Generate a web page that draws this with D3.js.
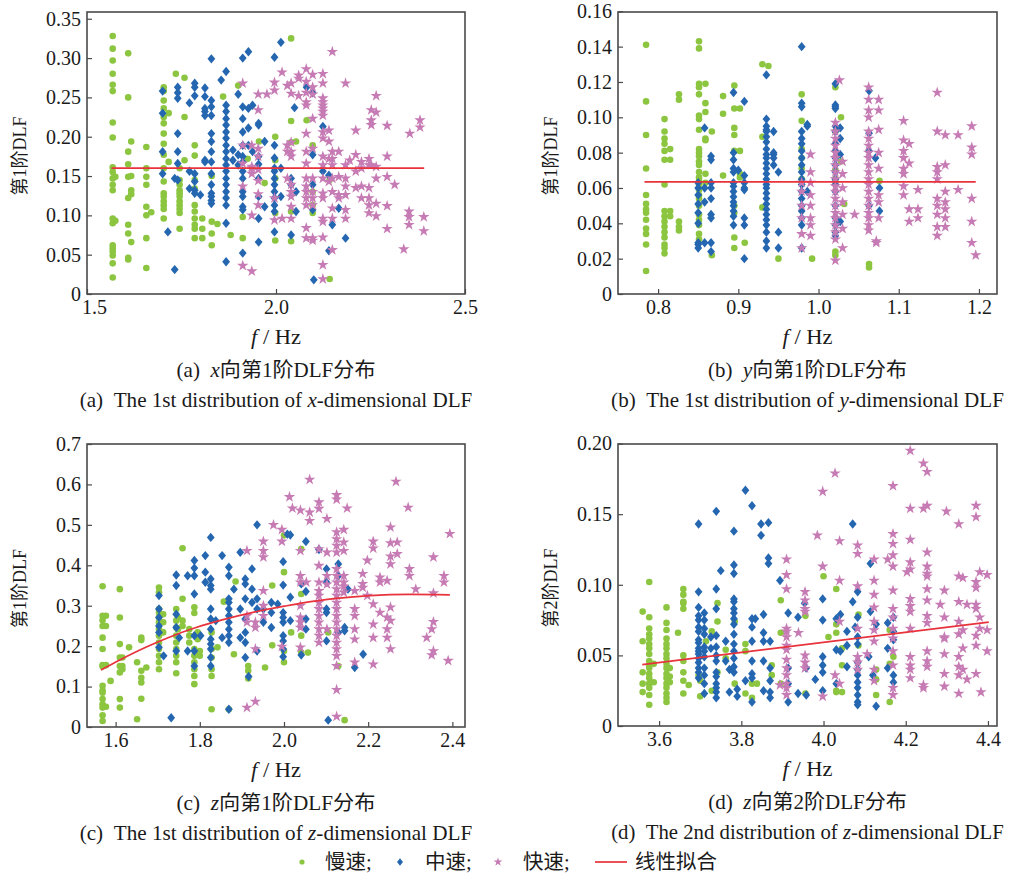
<!DOCTYPE html>
<html><head><meta charset="utf-8">
<script src="https://cdn.jsdelivr.net/npm/d3@7"></script>
<style>body{margin:0;background:#fff}svg{display:block}</style>
</head><body><svg id="chart" width="1016" height="877"></svg>
<script>
// ---------- data: [f (Hz), [DLF values at that f]] ----------
const aSlow = [
 [1.568,[0.328,0.312,0.297,0.280,0.266,0.258,0.218,0.199,0.161,0.155,0.147,0.139,0.132,0.096,0.090,0.062,0.058,0.054,0.049,0.039,0.021]],
 [1.575,[0.149,0.093]],
 [1.609,[0.306,0.250,0.181,0.165,0.149,0.122,0.088,0.077,0.046,0.044]],
 [1.617,[0.194,0.150,0.132,0.127,0.066]],
 [1.657,[0.187,0.160,0.149,0.139,0.111,0.100,0.071,0.033]],
 [1.670,[0.104]],
 [1.703,[0.263,0.258,0.246,0.236,0.225,0.217,0.204,0.191,0.177,0.160,0.143,0.128,0.124,0.118,0.113,0.108,0.096]],
 [1.716,[0.230,0.168]],
 [1.735,[0.280]],
 [1.745,[0.160,0.145,0.139,0.132,0.128,0.124,0.118,0.113,0.108,0.103,0.083]],
 [1.758,[0.275,0.225,0.170]],
 [1.785,[0.189,0.176,0.145,0.134,0.113,0.105,0.096,0.088,0.071,0.083]],
 [1.805,[0.096,0.083,0.071]],
 [1.830,[0.092,0.077,0.062,0.150]],
 [1.845,[0.089]],[1.860,[0.251]],[1.880,[0.075]],[1.900,[0.265]],
 [1.912,[0.071,0.098]],[1.925,[0.172]],[1.955,[0.194]],[1.970,[0.141]],
 [1.998,[0.200,0.170,0.147,0.103,0.068]],
 [2.040,[0.325,0.220,0.193,0.105,0.067]],
 [2.053,[0.194]],[2.081,[0.221]],
 [2.097,[0.189,0.130,0.113,0.103]],
 [2.142,[0.145,0.019]]
];
const aMid = [
 [1.700,[0.258,0.230,0.181,0.153]],[1.714,[0.079]],[1.732,[0.031,0.147]],
 [1.740,[0.263,0.256,0.249,0.204,0.181,0.166,0.145]],
 [1.771,[0.243,0.156,0.134]],
 [1.785,[0.268,0.263,0.252,0.153,0.143,0.132,0.128]],
 [1.800,[0.126]],
 [1.812,[0.262,0.251,0.236,0.232,0.227,0.170,0.168]],
 [1.829,[0.299,0.246,0.238,0.227,0.204,0.194,0.181,0.168,0.153,0.139,0.128,0.124,0.119,0.115]],
 [1.855,[0.272]],
 [1.868,[0.283,0.240,0.232,0.223,0.215,0.206,0.198,0.189,0.181,0.172,0.164,0.156,0.147,0.139,0.130,0.122,0.113,0.090,0.041]],
 [1.886,[0.183,0.170]],
 [1.900,[0.254,0.177,0.164]],
 [1.912,[0.300,0.238,0.223,0.206,0.189,0.175,0.168,0.156,0.147,0.130,0.124,0.111,0.107,0.052]],
 [1.927,[0.308,0.236,0.211,0.189]],
 [1.938,[0.240,0.181]],
 [1.954,[0.217,0.215,0.175,0.165,0.147,0.124,0.096,0.066]],
 [1.970,[0.194,0.111]],
 [1.996,[0.301,0.189,0.173,0.160,0.156,0.147,0.139,0.130,0.122,0.113,0.105,0.079]],
 [2.013,[0.320,0.160,0.124]],
 [2.040,[0.147,0.139,0.075]],[2.049,[0.237]],[2.053,[0.130,0.105]],[2.081,[0.263]],
 [2.097,[0.256,0.177,0.139,0.107]],[2.100,[0.018]],
 [2.124,[0.213,0.156]],[2.140,[0.151,0.055]],[2.149,[0.088]],[2.166,[0.109]],[2.184,[0.071]]
];
const aFast = [
 [1.912,[0.268,0.189,0.166,0.137,0.036]],
 [1.936,[0.189,0.162,0.160,0.153,0.100,0.029]],
 [1.953,[0.254,0.234,0.185,0.175,0.158,0.144,0.127,0.113]],
 [1.976,[0.254]],
 [1.996,[0.269,0.259,0.122,0.094]],
 [2.016,[0.282,0.096]],
 [2.030,[0.265,0.189,0.181,0.147]],
 [2.040,[0.268,0.255,0.193,0.181,0.175,0.139,0.130,0.124,0.111,0.096]],
 [2.060,[0.278,0.274,0.252]],
 [2.080,[0.286,0.270,0.256,0.244,0.240,0.204,0.181,0.166,0.147,0.137,0.130,0.122,0.113,0.084,0.071]],
 [2.097,[0.279,0.263,0.254,0.223,0.185,0.147,0.130,0.122,0.113,0.071,0.068]],
 [2.124,[0.280,0.268,0.249,0.244,0.240,0.236,0.232,0.227,0.206,0.198,0.175,0.164,0.147,0.128,0.122,0.096,0.092,0.072,0.037,0.019]],
 [2.140,[0.208,0.194,0.172,0.143]],
 [2.149,[0.308,0.181,0.172,0.164,0.147,0.130,0.109,0.096,0.056]],
 [2.166,[0.181,0.149,0.126,0.122]],
 [2.184,[0.268,0.164,0.147,0.137,0.126,0.107,0.096]],
 [2.195,[0.170]],
 [2.211,[0.208,0.177,0.156,0.135]],
 [2.226,[0.168,0.160,0.137,0.122]],
 [2.246,[0.172,0.164,0.135,0.122,0.113,0.103]],
 [2.252,[0.234,0.221,0.215,0.164]],
 [2.265,[0.252,0.231,0.162,0.147,0.115,0.099]],
 [2.294,[0.214,0.175,0.149,0.112,0.083]],
 [2.314,[0.139]],[2.338,[0.057]],[2.352,[0.105,0.098,0.088]],[2.354,[0.204]],
 [2.381,[0.221,0.212]],[2.391,[0.098,0.080]]
];
const aFitF = [1.565, 2.392];
const aFitD = [0.160, 0.160];

const bSlow = [
 [0.785,[0.141,0.109,0.090,0.071,0.056,0.051,0.048,0.046,0.042,0.037,0.034,0.028,0.013]],
 [0.808,[0.099,0.092,0.088,0.085,0.081,0.076,0.062,0.047,0.044,0.041,0.038,0.035,0.032,0.028,0.026,0.023]],
 [0.815,[0.082,0.076,0.047,0.044]],
 [0.826,[0.113,0.110,0.041,0.038,0.036]],
 [0.851,[0.143,0.139,0.119,0.117,0.113,0.101,0.099,0.093,0.082,0.080,0.078,0.075,0.073,0.069,0.066,0.064,0.062,0.059,0.056,0.054,0.050,0.045,0.042,0.039,0.034,0.031]],
 [0.859,[0.119,0.108,0.103,0.088,0.087,0.068,0.063]],
 [0.867,[0.092,0.022]],
 [0.881,[0.112,0.102,0.067]],
 [0.895,[0.118,0.105,0.094,0.090,0.081,0.050,0.046,0.032,0.026]],
 [0.902,[0.105,0.081,0.068,0.066]],
 [0.908,[0.029]],
 [0.930,[0.130,0.089,0.049]],[0.9375,[0.129]],[0.950,[0.020]],
 [0.979,[0.113,0.098,0.082,0.077,0.071,0.065]],
 [0.992,[0.020]],
 [1.021,[0.117,0.092,0.070,0.065,0.024,0.022]],
 [1.028,[0.100,0.075]],[1.032,[0.051]],[1.063,[0.017,0.015]],[1.076,[0.064]]
];
const bMid = [
 [0.850,[0.063,0.060,0.056,0.051,0.046,0.040,0.029,0.028,0.026]],
 [0.858,[0.094,0.060,0.052,0.029]],
 [0.866,[0.078,0.076,0.063,0.060,0.054,0.045,0.043,0.029,0.024]],
 [0.894,[0.114,0.080,0.076,0.071,0.069,0.063,0.061,0.058,0.055,0.052,0.050,0.047,0.044,0.039]],
 [0.900,[0.070]],
 [0.9075,[0.109,0.067,0.063,0.060,0.059,0.043,0.039,0.020]],
 [0.935,[0.124,0.099,0.095,0.093,0.092,0.089,0.086,0.082,0.079,0.077,0.074,0.071,0.068,0.065,0.062,0.060,0.057,0.054,0.051,0.048,0.045,0.042,0.039,0.035,0.030,0.026]],
 [0.944,[0.092,0.080,0.079,0.077,0.073]],
 [0.950,[0.069,0.035,0.026]],
 [0.979,[0.140,0.108,0.106,0.092,0.088,0.085,0.081,0.077,0.073,0.069,0.065,0.062,0.058,0.054,0.050,0.047,0.043,0.039,0.026]],
 [0.986,[0.096,0.095,0.058]],
 [1.021,[0.119,0.107,0.106,0.105,0.095,0.092,0.085,0.081,0.077,0.073,0.069,0.065,0.062,0.058,0.050,0.043,0.039,0.035,0.033]],
 [1.027,[0.094,0.088,0.079,0.041]],
 [1.063,[0.115,0.091,0.081,0.050]],
 [1.071,[0.077]],[1.076,[0.060,0.047]]
];
const bFast = [
 [0.979,[0.063,0.058,0.050,0.043,0.034,0.026]],
 [0.990,[0.079,0.069,0.063,0.056,0.050,0.043,0.039,0.033]],
 [1.021,[0.097,0.092,0.088,0.084,0.080,0.077,0.073,0.069,0.065,0.061,0.058,0.054,0.050,0.046,0.043,0.039,0.035,0.031,0.019]],
 [1.026,[0.121]],
 [1.030,[0.075,0.068,0.060,0.052,0.045,0.037,0.026]],
 [1.045,[0.045]],
 [1.0625,[0.117,0.110,0.104,0.100,0.092,0.088,0.084,0.080,0.077,0.073,0.069,0.065,0.062,0.058,0.054,0.050,0.046,0.043,0.039,0.036]],
 [1.075,[0.110,0.104,0.093,0.080,0.071,0.056,0.052,0.043]],
 [1.072,[0.030,0.029]],
 [1.106,[0.098,0.087,0.081,0.077,0.071,0.068,0.061,0.056]],
 [1.113,[0.085,0.074,0.048,0.041]],
 [1.124,[0.059,0.048,0.043]],
 [1.148,[0.114,0.092,0.072,0.069,0.065,0.054,0.050,0.045,0.038,0.033]],
 [1.158,[0.090,0.073,0.058,0.052,0.048,0.043,0.038]],
 [1.174,[0.090,0.059]],
 [1.191,[0.095,0.083,0.079,0.054,0.041,0.029]],
 [1.196,[0.022]]
];
const bFitF = [0.783, 1.196];
const bFitD = [0.0635, 0.0635];

const cSlow = [
 [1.569,[0.348,0.275,0.264,0.250,0.221,0.193,0.153,0.150,0.102,0.090,0.085,0.069,0.056,0.048,0.029,0.015]],
 [1.577,[0.275,0.250,0.153,0.050]],
 [1.588,[0.114]],
 [1.610,[0.341,0.271,0.205,0.172,0.151,0.135,0.069,0.048]],
 [1.616,[0.172,0.151,0.143]],
 [1.632,[0.197]],[1.651,[0.160,0.019]],
 [1.661,[0.221,0.215,0.139,0.122,0.110,0.070]],
 [1.673,[0.147]],
 [1.703,[0.345,0.333,0.292,0.283,0.271,0.259,0.242,0.226,0.209,0.193,0.176,0.160,0.143]],
 [1.713,[0.279,0.259,0.234]],
 [1.744,[0.292,0.263,0.246,0.226,0.209,0.193,0.176,0.160,0.133]],
 [1.748,[0.271,0.242]],
 [1.759,[0.442,0.317,0.263,0.250]],
 [1.775,[0.242,0.226,0.209]],
 [1.787,[0.296,0.282,0.193,0.176,0.160,0.143,0.126,0.106]],
 [1.795,[0.234,0.217,0.184]],
 [1.800,[0.188,0.176]],
 [1.828,[0.234,0.193,0.172,0.143,0.126,0.044]],
 [1.842,[0.197]],[1.857,[0.310]],[1.869,[0.044]],[1.881,[0.180]],[1.885,[0.360]],
 [1.915,[0.151,0.139,0.120]],[1.955,[0.147]],
 [1.972,[0.350,0.202]],
 [2.000,[0.474,0.383,0.188,0.160]],
 [2.017,[0.234]],
 [2.041,[0.440,0.329,0.226,0.184]],
 [2.057,[0.184]],[2.105,[0.234]],[2.129,[0.151]],[2.144,[0.017]]
];
const cMid = [
 [1.703,[0.325,0.292,0.271,0.250,0.234,0.197]],
 [1.714,[0.176]],[1.732,[0.023]],
 [1.744,[0.376,0.350,0.279,0.246,0.188]],
 [1.751,[0.221]],[1.771,[0.374,0.188]],
 [1.787,[0.412,0.393,0.374,0.329,0.226,0.188,0.151]],
 [1.802,[0.226]],
 [1.813,[0.424,0.383,0.358]],
 [1.826,[0.469,0.366,0.350,0.341,0.292,0.267,0.242,0.217,0.205,0.193,0.172,0.151]],
 [1.838,[0.263]],[1.853,[0.424,0.221]],
 [1.869,[0.395,0.374,0.317,0.308,0.292,0.275,0.259,0.242,0.226,0.209,0.044]],
 [1.881,[0.341]],
 [1.896,[0.432,0.292,0.221]],
 [1.908,[0.366,0.354,0.317,0.267,0.234,0.209,0.172]],
 [1.916,[0.125]],
 [1.924,[0.391,0.341,0.308]],
 [1.936,[0.500,0.317,0.292,0.188]],
 [1.951,[0.292,0.259]],
 [1.970,[0.308,0.283,0.246]],
 [1.985,[0.304]],
 [1.998,[0.409,0.351,0.283,0.271,0.259,0.226,0.213,0.193,0.174]],
 [2.008,[0.477]],
 [2.015,[0.475,0.321,0.263]],
 [2.041,[0.354,0.178]],
 [2.052,[0.459,0.335,0.267,0.242]],
 [2.083,[0.439]],
 [2.101,[0.391,0.358,0.292,0.283,0.213]],
 [2.105,[0.017]],
 [2.129,[0.403,0.374,0.234]],
 [2.144,[0.246,0.238]],[2.152,[0.341]],[2.168,[0.147]],[2.188,[0.180]]
];
const cFast = [
 [1.912,[0.436,0.275,0.259,0.048]],
 [1.932,[0.259,0.246,0.193,0.063]],
 [1.951,[0.459,0.436,0.420,0.337,0.300,0.275]],
 [1.975,[0.500]],
 [1.995,[0.488,0.459,0.199]],
 [2.013,[0.569]],[2.020,[0.541]],
 [2.039,[0.536,0.436,0.374,0.358,0.300,0.271,0.259,0.246,0.197]],
 [2.053,[0.358]],
 [2.061,[0.612,0.531,0.510]],
 [2.083,[0.556,0.540,0.440,0.399,0.358,0.337,0.325,0.308,0.292,0.275,0.259,0.242,0.226,0.209]],
 [2.102,[0.515,0.432,0.374,0.353,0.242]],
 [2.125,[0.574,0.563,0.482,0.465,0.449,0.432,0.391,0.374,0.358,0.341,0.325,0.308,0.292,0.275,0.259,0.242,0.226,0.209,0.193,0.176,0.151,0.092,0.026]],
 [2.142,[0.488,0.457,0.436,0.374,0.358,0.348,0.333]],
 [2.150,[0.541]],
 [2.168,[0.337,0.292,0.275,0.242,0.217,0.160]],
 [2.187,[0.379,0.354,0.345]],
 [2.198,[0.412,0.325]],
 [2.212,[0.459,0.442,0.304,0.254,0.221,0.155]],
 [2.228,[0.370,0.358,0.283]],
 [2.245,[0.362,0.271,0.242,0.221]],
 [2.253,[0.494,0.455,0.422,0.403,0.296,0.263,0.193]],
 [2.266,[0.607]],[2.269,[0.457,0.428]],[2.295,[0.543]],[2.298,[0.391,0.374]],
 [2.313,[0.341]],[2.339,[0.221]],[2.351,[0.242,0.178]],
 [2.355,[0.420,0.331,0.260,0.188]],
 [2.380,[0.374,0.358]],[2.390,[0.164]],[2.394,[0.478]]
];
const cFitF = [1.565,1.610,1.673,1.732,1.791,1.853,1.924,2.002,2.045,2.125,2.204,2.299,2.394];
const cFitD = [0.141,0.166,0.198,0.224,0.246,0.265,0.283,0.299,0.307,0.318,0.325,0.328,0.327];

const dSlow = [
 [3.560,[0.081,0.060,0.038,0.030,0.024]],
 [3.576,[0.102,0.077,0.069,0.065,0.062,0.058,0.055,0.051,0.046,0.043,0.041,0.037,0.034,0.030,0.027,0.022,0.015]],
 [3.587,[0.044,0.031]],
 [3.618,[0.084,0.073,0.068,0.062,0.058,0.055,0.051,0.048,0.044,0.041,0.037,0.034,0.030,0.027,0.023,0.020,0.017]],
 [3.626,[0.041,0.035,0.031]],
 [3.646,[0.066]],
 [3.659,[0.097,0.093,0.088,0.087,0.083,0.050,0.046,0.038,0.032,0.023]],
 [3.672,[0.029]],[3.696,[0.036]],[3.700,[0.032,0.021]],[3.714,[0.060]],
 [3.728,[0.067,0.025]],[3.742,[0.087,0.074,0.038]],[3.762,[0.054,0.048]],
 [3.784,[0.074,0.030]],[3.810,[0.058,0.053,0.023]],[3.826,[0.030,0.020]],
 [3.838,[0.030]],[3.874,[0.043,0.036]],[3.896,[0.089,0.066,0.030]],
 [3.956,[0.078,0.023]],[4.000,[0.106]],[4.012,[0.063]],
 [4.031,[0.097,0.072,0.066,0.025,0.024]],
 [4.045,[0.055,0.043,0.024]],[4.085,[0.079,0.057]],
 [4.128,[0.040,0.033,0.022]],[4.161,[0.068,0.044,0.017]],[4.170,[0.049]]
];
const dMid = [
 [3.696,[0.143,0.095,0.084,0.078,0.075,0.070,0.067,0.061,0.059,0.055,0.053,0.051,0.048,0.045,0.041,0.038,0.034]],
 [3.710,[0.080,0.075,0.069,0.065,0.056,0.053,0.049,0.041,0.036,0.030,0.023]],
 [3.726,[0.063,0.055]],
 [3.739,[0.152,0.097,0.083,0.064,0.056,0.050,0.046,0.038,0.035,0.030,0.027,0.024,0.020]],
 [3.750,[0.110]],[3.762,[0.060,0.046]],[3.771,[0.040,0.024]],
 [3.782,[0.138,0.114,0.108,0.090,0.088,0.083,0.080,0.076,0.072,0.065,0.058,0.053,0.048,0.042,0.038]],
 [3.790,[0.026,0.021]],[3.810,[0.167,0.032]],
 [3.826,[0.156,0.076,0.070,0.060,0.046,0.037,0.034,0.017]],
 [3.834,[0.076]],[3.848,[0.143,0.135]],
 [3.854,[0.079,0.066,0.060,0.046,0.025]],
 [3.866,[0.144,0.119,0.115]],
 [3.870,[0.060,0.041,0.032,0.024,0.020]],
 [3.894,[0.103]],[3.914,[0.080,0.041,0.030,0.017]],
 [3.938,[0.077,0.023]],[3.954,[0.087]],[3.958,[0.041,0.022]],[3.980,[0.033]],
 [3.998,[0.090,0.075,0.049,0.043,0.038,0.025]],
 [4.031,[0.076,0.054,0.030]],[4.041,[0.079,0.053]],
 [4.057,[0.067,0.057,0.042]],[4.071,[0.143,0.088]],[4.077,[0.070]],
 [4.083,[0.095,0.077,0.063,0.058,0.045,0.040,0.036,0.031,0.027,0.022,0.017,0.015]],
 [4.110,[0.049]],[4.114,[0.115,0.081]],[4.120,[0.036]],[4.128,[0.072,0.014]],
 [4.156,[0.073,0.055,0.041]],[4.170,[0.077,0.067,0.061,0.036,0.031]]
];
const dFast = [
 [3.894,[0.029]],
 [3.910,[0.118,0.107,0.097,0.069,0.067,0.063,0.057,0.054,0.047,0.041,0.036,0.030,0.027,0.022]],
 [3.939,[0.066]],
 [3.955,[0.095,0.089,0.083,0.081,0.050,0.045,0.041]],
 [3.985,[0.135]],[3.998,[0.166,0.113,0.021]],[4.028,[0.179,0.036]],
 [4.039,[0.131,0.103,0.074,0.030]],
 [4.083,[0.128,0.122,0.099,0.069,0.049,0.045,0.040]],
 [4.106,[0.051]],
 [4.123,[0.118,0.103,0.093,0.084,0.074,0.068,0.060,0.040,0.032]],
 [4.156,[0.118]],
 [4.169,[0.170,0.136,0.129,0.121,0.113,0.096,0.083,0.077,0.069,0.062,0.053,0.043,0.027,0.022]],
 [4.203,[0.109]],
 [4.211,[0.195,0.154,0.132,0.116,0.111,0.090,0.085,0.081,0.069,0.049,0.043,0.040,0.034]],
 [4.243,[0.186,0.154,0.029,0.027]],
 [4.252,[0.180,0.156,0.123,0.113,0.108,0.106,0.097,0.089,0.078,0.073,0.053,0.046,0.042]],
 [4.284,[0.086]],
 [4.294,[0.096,0.077,0.063,0.062,0.051,0.037,0.028]],
 [4.299,[0.152]],
 [4.329,[0.143,0.106,0.088,0.074,0.065,0.049,0.042,0.036,0.023]],
 [4.339,[0.105,0.068,0.055,0.040]],
 [4.349,[0.086,0.033]],
 [4.371,[0.156,0.148,0.102,0.098,0.086,0.083,0.064,0.057,0.037]],
 [4.380,[0.109,0.077,0.069]],[4.383,[0.024]],
 [4.398,[0.107,0.068,0.053]]
];
const dFitF = [3.559, 4.402];
const dFitD = [0.0435, 0.0735];

// ---------- ticks and labels ----------
const xTicksA = [1.5, 2.0, 2.5];
const yTicksA = [0, 0.05, 0.10, 0.15, 0.20, 0.25, 0.30, 0.35];
const xTicksB = [0.8, 0.9, 1.0, 1.1, 1.2];
const yTicksB = [0, 0.02, 0.04, 0.06, 0.08, 0.10, 0.12, 0.14, 0.16];
const xTicksC = [1.6, 1.8, 2.0, 2.2, 2.4];
const yTicksC = [0, 0.1, 0.2, 0.3, 0.4, 0.5, 0.6, 0.7];
const xTicksD = [3.6, 3.8, 4.0, 4.2, 4.4];
const yTicksD = [0, 0.05, 0.10, 0.15, 0.20];

const panelTags = ['a', 'b', 'c', 'd'];
const panelDirs = ['x', 'y', 'z', 'z'];
const panelOrdCn = ['1', '1', '1', '2'];
const panelOrdEn = ['1st', '1st', '1st', '2nd'];
const yTitles = ['第1阶DLF', '第1阶DLF', '第1阶DLF', '第2阶DLF'];
const legendNames = ['慢速;', '中速;', '快速;', '线性拟合'];

// ---------- drawing ----------
const COL = {slow: '#8cc540', mid: '#2466b0', fast: '#c67bb4', fit: '#e8323c', frame: '#4a4a4a', text: '#1a1a1a'};
const SERIF = "'Liberation Serif','Times New Roman','Noto Sans CJK SC',serif";
const svg = d3.select('#chart');

const panels = [
  {slow: aSlow, mid: aMid, fast: aFast, fitF: aFitF, fitD: aFitD, xTicks: xTicksA, yTicks: yTicksA,
   xDom: [1.5, 2.5], yDom: [0, 0.3586], box: [87, 12, 465, 294], xDec: 1, yDec: 2, curve: false},
  {slow: bSlow, mid: bMid, fast: bFast, fitF: bFitF, fitD: bFitD, xTicks: xTicksB, yTicks: yTicksB,
   xDom: [0.75, 1.2225], yDom: [0, 0.1596], box: [618, 12, 997, 294], xDec: 1, yDec: 2, curve: false},
  {slow: cSlow, mid: cMid, fast: cFast, fitF: cFitF, fitD: cFitD, xTicks: xTicksC, yTicks: yTicksC,
   xDom: [1.532, 2.430], yDom: [0, 0.700], box: [87, 444, 465, 727], xDec: 1, yDec: 1, curve: true},
  {slow: dSlow, mid: dMid, fast: dFast, fitF: dFitF, fitD: dFitD, xTicks: xTicksD, yTicks: yTicksD,
   xDom: [3.5, 4.422], yDom: [0, 0.1997], box: [618, 444, 997, 726], xDec: 1, yDec: 2, curve: false}
];

const flat = cols => cols.flatMap(([f, ds]) => ds.map(v => [f, v]));
const diamondPath = (w, h) => `M0,${-h}L${w},0L0,${h}L${-w},0Z`;
const starPath = d3.symbol().type(d3.symbolStar).size(40)();

// draw a text centred at (cx, y), stretched horizontally to a target width
function stretchedText(parent, cx, y, size, width, parts) {
  const t = parent.append('text').attr('x', 0).attr('y', 0).attr('text-anchor', 'middle')
    .attr('font-family', SERIF).attr('font-size', size).attr('fill', COL.text);
  parts.forEach(([s, it]) => {
    const ts = t.append('tspan').text(s);
    if (it) ts.attr('font-style', 'italic');
  });
  const natural = t.node().getComputedTextLength() || width;
  t.attr('transform', `translate(${cx},${y}) scale(${(width / natural).toFixed(4)},1)`);
  return t;
}

panels.forEach((p, i) => {
  const [L, T, R, B] = p.box;
  const x = d3.scaleLinear().domain(p.xDom).range([L, R]);
  const y = d3.scaleLinear().domain(p.yDom).range([B, T]);
  const g = svg.append('g');

  g.append('g').selectAll('circle').data(flat(p.slow)).join('circle')
    .attr('cx', d => x(d[0])).attr('cy', d => y(d[1])).attr('r', 3.3).attr('fill', COL.slow);
  g.append('g').selectAll('path').data(flat(p.mid)).join('path')
    .attr('d', diamondPath(3.9, 4.7))
    .attr('transform', d => `translate(${x(d[0])},${y(d[1])})`).attr('fill', COL.mid);
  g.append('g').selectAll('path').data(flat(p.fast)).join('path')
    .attr('d', starPath)
    .attr('transform', d => `translate(${x(d[0])},${y(d[1])})`).attr('fill', COL.fast);

  const line = d3.line().x(d => x(d[0])).y(d => y(d[1]));
  if (p.curve) line.curve(d3.curveMonotoneX);
  g.append('path').datum(d3.zip(p.fitF, p.fitD)).attr('d', line)
    .attr('fill', 'none').attr('stroke', COL.fit).attr('stroke-width', 1.7);

  g.append('rect').attr('x', L).attr('y', T).attr('width', R - L).attr('height', B - T)
    .attr('fill', 'none').attr('stroke', COL.frame).attr('stroke-width', 1.6);

  const yFmt = v => v === 0 ? '0' : d3.format('.' + p.yDec + 'f')(v);
  const xa = g.append('g').attr('transform', `translate(0,${B})`)
    .call(d3.axisBottom(x).tickValues(p.xTicks).tickFormat(d3.format('.' + p.xDec + 'f'))
      .tickSizeInner(-5).tickSizeOuter(0).tickPadding(6));
  const ya = g.append('g').attr('transform', `translate(${L},0)`)
    .call(d3.axisLeft(y).tickValues(p.yTicks).tickFormat(yFmt)
      .tickSizeInner(-5).tickSizeOuter(0).tickPadding(6));
  [xa, ya].forEach(a => {
    a.select('.domain').remove();
    a.attr('font-family', SERIF).attr('font-size', 20);
    a.selectAll('line').attr('stroke', COL.frame).attr('stroke-width', 1.2);
    a.selectAll('text').attr('fill', COL.text);
  });
  if (i === 0) xa.selectAll('text').filter((d, k) => k === 0).attr('dx', 7);

  const cx = (L + R) / 2;
  // y title
  g.append('text').attr('transform', `translate(${L - 61},${(T + B) / 2 + 3}) rotate(-90)`)
    .attr('text-anchor', 'middle').attr('font-family', SERIF).attr('font-size', 18)
    .attr('fill', COL.text).text(yTitles[i]);
  // x title
  stretchedText(g, cx, B + 50, 21, 50, [['f', true], [' / Hz', false]]);
  // captions
  stretchedText(g, cx, B + 83, 20, 199,
    [[`(${panelTags[i]})\u2002`, false], [panelDirs[i], true], [`向第${panelOrdCn[i]}阶DLF分布`, false]]);
  stretchedText(g, cx, B + 113, 21, 393,
    [[`(${panelTags[i]})\u2002The ${panelOrdEn[i]} distribution of `, false], [panelDirs[i], true], ['-dimensional DLF', false]]);
});

// legend
const lg = svg.append('g').attr('font-family', SERIF).attr('font-size', 20.5).attr('fill', COL.text);
const ly = 862;
lg.append('circle').attr('cx', 302).attr('cy', ly).attr('r', 2.6).attr('fill', COL.slow);
lg.append('path').attr('d', diamondPath(3, 3.8)).attr('transform', `translate(400,${ly})`).attr('fill', COL.mid);
lg.append('path').attr('d', d3.symbol().type(d3.symbolStar).size(24)()).attr('transform', `translate(498,${ly})`).attr('fill', COL.fast);
lg.append('line').attr('x1', 595).attr('x2', 627).attr('y1', ly).attr('y2', ly).attr('stroke', COL.fit).attr('stroke-width', 1.7);
[325, 425, 523, 635].forEach((lx, k) => {
  lg.append('text').attr('x', lx).attr('y', ly + 7).text(legendNames[k]);
});
</script></body></html>
